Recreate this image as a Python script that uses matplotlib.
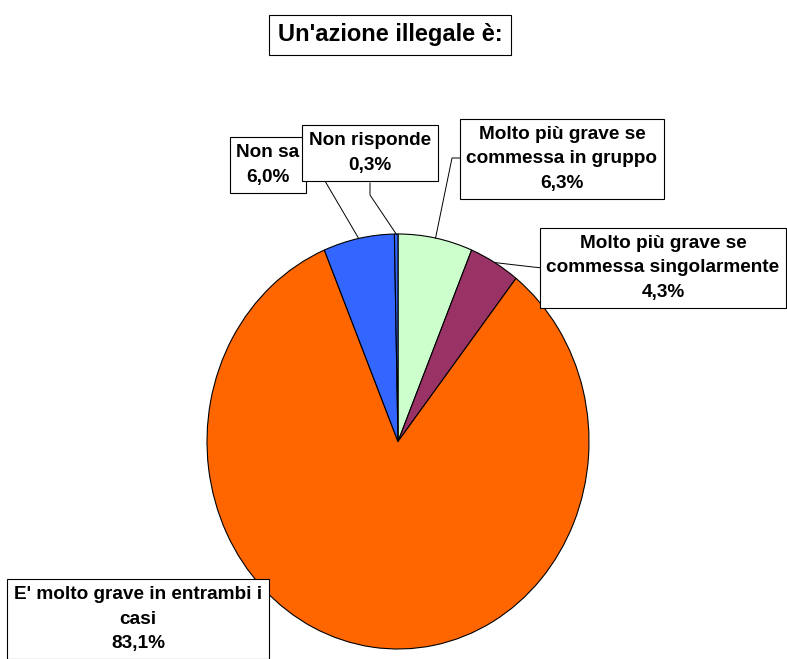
import matplotlib
matplotlib.use("Agg")
import numpy as np
import matplotlib.pyplot as plt
from matplotlib.lines import Line2D

title = "Un'azione illegale è:"
labels = ["Molto più grave se\ncommessa in gruppo",
          "Molto più grave se\ncommessa singolarmente",
          "E' molto grave in entrambi i\ncasi",
          "Non sa",
          "Non risponde"]
values = [6.3, 4.3, 83.1, 6.0, 0.3]
colors = ["#CCFFCC", "#993366", "#FF6600", "#3366FF", "#3366FF"]

W, H = 787, 659
plt.rcParams['font.family'] = ['Liberation Sans', 'DejaVu Sans']

fig = plt.figure(figsize=(W / 100, H / 100), dpi=100)
ax = fig.add_axes([207 / W, 10 / H, 382 / W, 415 / H])
wedges, _ = ax.pie(values, colors=colors, startangle=90, counterclock=False,
                   wedgeprops=dict(edgecolor='black', linewidth=0.8))
ax.set_aspect('auto')
ax.set_xlim(-1, 1)
ax.set_ylim(-1, 1)


def fpos(x, y):
    # image pixel (top-left origin) -> figure fraction
    return x / W, 1 - y / H


# label box centres, in image pixels
label_pos = [(562, 159), (663, 268), (138, 619), (268, 165), (370, 153)]
# leader line: box anchor + elbow, in image pixels
leaders = {0: [(462, 158), (452, 158)],
           1: [(543, 268), (533, 267)],
           3: [(303, 164), (315, 164)],
           4: [(370, 183), (370, 195)]}

box = dict(boxstyle='square,pad=0.35', fc='white', ec='black', lw=0.8)
for i, (lab, val) in enumerate(zip(labels, values)):
    txt = lab + "\n" + ("%.1f" % val).replace('.', ',') + "%"
    x, y = fpos(*label_pos[i])
    fig.text(x, y, txt, ha='center', va='center', fontsize=13.7,
             fontweight='bold', linespacing=1.6, bbox=box, zorder=5)

fig.canvas.draw()
for i, pts in leaders.items():
    w = wedges[i]
    th = np.deg2rad((w.theta1 + w.theta2) / 2)
    px, py = ax.transData.transform((np.cos(th), np.sin(th)))
    xs = [p[0] for p in pts] + [px]
    ys = [H - p[1] for p in pts] + [py]
    fig.add_artist(Line2D(xs, ys, color='black', lw=0.7,
                          transform=None, zorder=4))

tx, ty = fpos(390, 35)
fig.text(tx, ty, title, ha='center', va='center', fontsize=17,
         fontweight='bold',
         bbox=dict(boxstyle='square,pad=0.35', fc='white', ec='black', lw=0.8))

fig.savefig("out.png", dpi=100)
